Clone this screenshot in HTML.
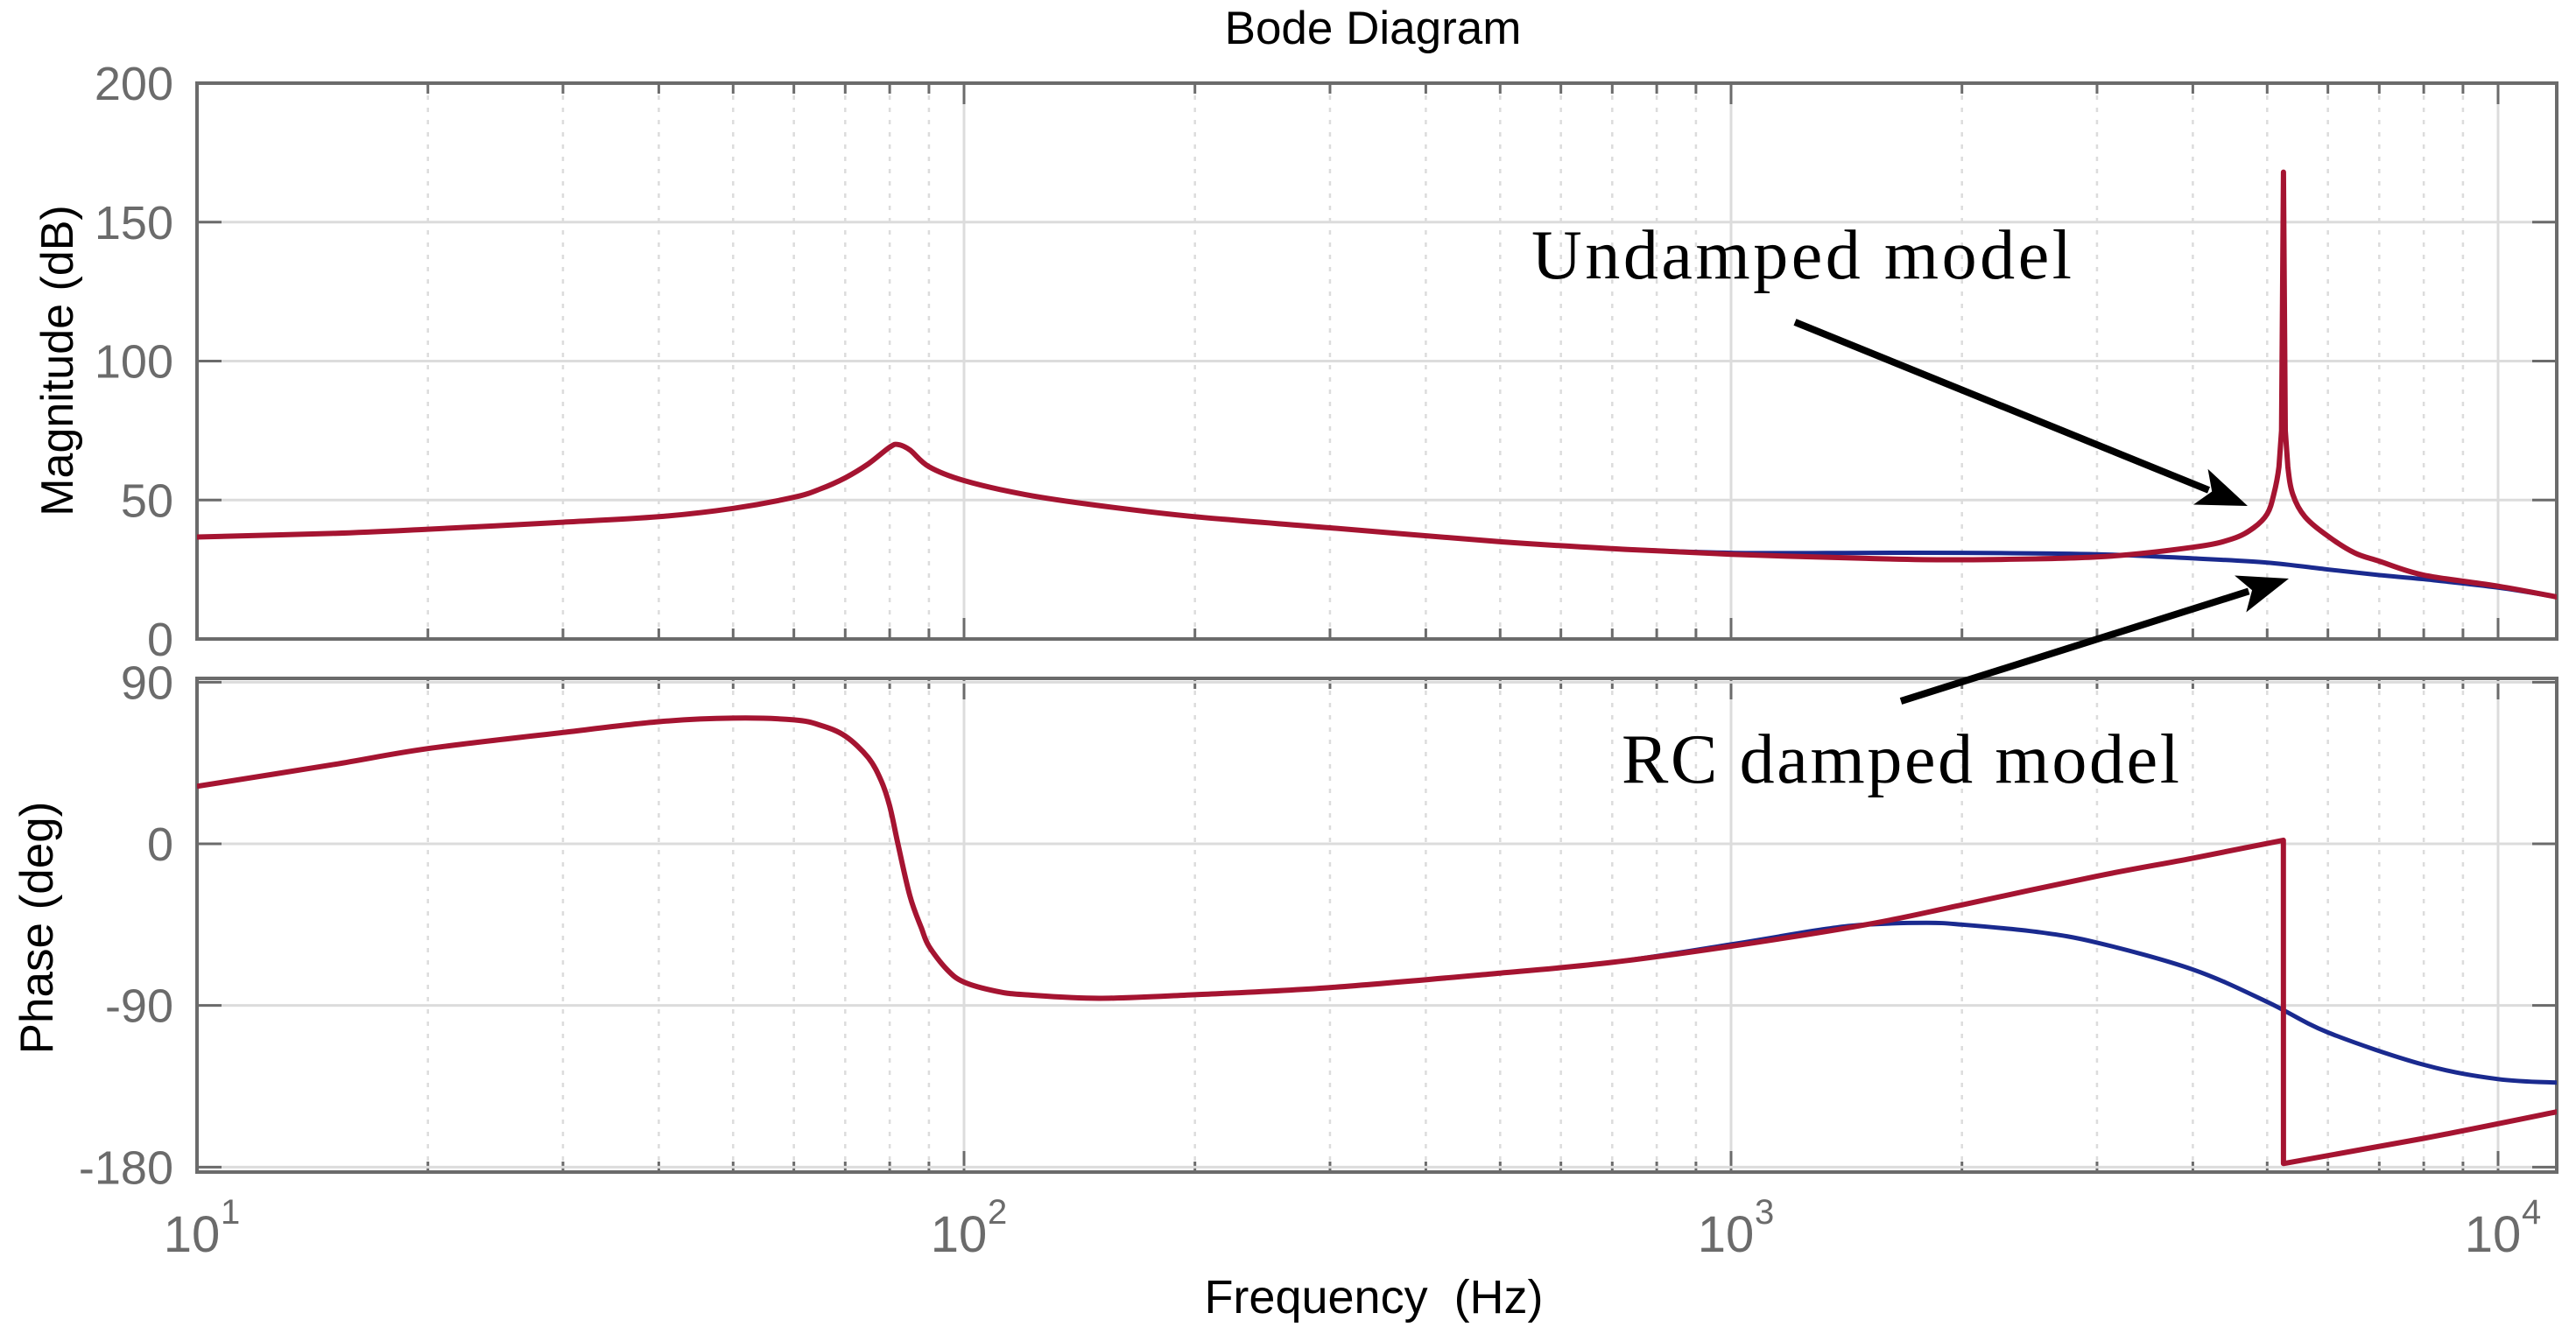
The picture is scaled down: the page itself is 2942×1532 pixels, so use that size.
<!DOCTYPE html>
<html><head><meta charset="utf-8"><style>
html,body{margin:0;padding:0;background:#fff;}
svg{display:block;}
</style></head><body>
<svg id="chart" width="2942" height="1532" viewBox="0 0 2942 1532" xmlns="http://www.w3.org/2000/svg" font-family="Liberation Sans, Arial, sans-serif">
<defs>
<clipPath id="clipMag"><rect x="225" y="95" width="2695" height="635"/></clipPath>
<clipPath id="clipPh"><rect x="225" y="775" width="2695" height="564"/></clipPath>
</defs>
<text x="1568" y="50" text-anchor="middle" font-size="53" fill="#000">Bode Diagram</text>
<g id="gMag"></g>
<g id="gPh"></g>
<text transform="translate(83,412) rotate(-90)" text-anchor="middle" font-size="52" fill="#000">Magnitude (dB)</text>
<text transform="translate(60,1060) rotate(-90)" text-anchor="middle" font-size="53" fill="#000">Phase (deg)</text>
<text x="1569" y="1500" text-anchor="middle" font-size="54" fill="#000" xml:space="preserve">Frequency  (Hz)</text>
<g>
<text x="1749" y="318" font-family="Liberation Serif, serif" font-size="80" fill="#000" textLength="617" lengthAdjust="spacing">Undamped model</text>
<g id="arrow1"></g>
</g>
<g>
<text x="1852" y="894" font-family="Liberation Serif, serif" font-size="80" fill="#000" textLength="637" lengthAdjust="spacing">RC damped model</text>
<g id="arrow2"></g>
</g>
</svg>
<script>
// Frequency axis (Hz) and series data
const magFreq = [10,15,20,30,40,50,60,65,70,75,80,82,85,90,100,120,150,200,300,500,700,1000,1500,2000,3000,4000,4500,4800,5000,5100,5180,5220,5250,5280,5320,5400,5600,6000,6500,7000,8000,10000,12000];
const magUndamped = [36.7,38,39.5,42,44,47,51,54,58,63,69,70,68,62,57,52,48,44,40,35,32.5,30.5,29,28.5,29.5,33,36,40,45,52,62,75,168,75,62,52,44,37,31,28,23,19,15];
const magDampedFreq = [10,15,20,30,40,50,60,65,70,75,80,82,85,90,100,120,150,200,300,500,700,1000,1500,2000,3000,4000,5000,6000,7000,8000,10000,12000];
const magDamped = [36.7,38,39.5,42,44,47,51,54,58,63,69,70,68,62,57,52,48,44,40,35,32.5,31,31,31,30.5,29,27.5,25,23,21.5,18.5,15];
const phFreq = [10,15,20,30,40,50,60,65,70,75,78,80,82,85,88,90,95,100,110,120,150,200,300,500,700,1000,1500,2000,3000,4000,5249,5251,8000,12000];
const phUndamped = [32,44,53,62,68,70,69,66,60,48,35,21,0,-29,-47,-57,-70,-77,-82,-84,-86,-84,-80,-72,-66,-57,-45,-34,-18,-8,2,-178,-164,-149];
const phDampedFreq = [10,15,20,30,40,50,60,65,70,75,78,80,82,85,88,90,95,100,110,120,150,200,300,500,700,1000,1300,1500,1800,2000,2500,3000,4000,5000,6000,8000,10000,12000];
const phDamped = [32,44,53,62,68,70,69,66,60,48,35,21,0,-29,-47,-57,-70,-77,-82,-84,-86,-84,-80,-72,-66,-56,-48,-45,-44,-45,-49,-55,-70,-88,-105,-123,-131,-133];
const magTicks = [0,50,100,150,200];
const phTicks = [-180,-90,0,90];
const decades = [1,2,3,4];

const X0 = 225, DEC = 876, XR = 2920;
function xS(f){ return X0 + (Math.log10(f) - 1) * DEC; }
function yMag(v){ return 730 - v * 3.175; }
function yPh(v){ return 964 - v * 2.052; }
const NS = 'http://www.w3.org/2000/svg';
function mk(tag, attrs, parent){ const e = document.createElementNS(NS, tag); for (const k in attrs) e.setAttribute(k, attrs[k]); parent.appendChild(e); return e; }
const fmax = Math.pow(10, 1 + (XR - X0) / DEC);

function drawAxes(g, top, bot, ticks, yFn, name){
  for (let d = 1; d <= 4; d++) {
    for (let m = 1; m <= 9; m++) {
      const f = m * Math.pow(10, d);
      if (f > fmax) continue;
      const x = xS(f);
      if (x <= X0 + 1) continue;
      const ln = mk('line', {x1:x, x2:x, y1:top, y2:bot, stroke:'#dcdcdc', 'stroke-width': m===1?3:2.5, 'stroke-dasharray': m===1?'none':'5 9'}, g);
      
      
      const tl = m===1 ? 24 : 12;
      const t1 = mk('line', {x1:x, x2:x, y1:bot, y2:bot-tl, stroke:'#6b6b6b', 'stroke-width':3}, g);
      
      
      const t2 = mk('line', {x1:x, x2:x, y1:top, y2:top+tl, stroke:'#6b6b6b', 'stroke-width':3}, g);
      
      
    }
  }
  ticks.forEach(v => {
    const y = yFn(v);
    const gl = mk('line', {x1:X0, x2:XR, y1:y, y2:y, stroke:'#dcdcdc', 'stroke-width':3}, g);
    
    
    const a = mk('line', {x1:X0, x2:X0+28, y1:y, y2:y, stroke:'#6b6b6b', 'stroke-width':3}, g);
    
    
    const b = mk('line', {x1:XR-28, x2:XR, y1:y, y2:y, stroke:'#6b6b6b', 'stroke-width':3}, g);
    
    
    const t = mk('text', {x:198, y:y+19, 'text-anchor':'end', 'font-size':54, fill:'#6b6b6b'}, g);
    
    
    t.textContent = String(v);
  });
  const box = mk('rect', {x:X0, y:top, width:XR-X0, height:bot-top, fill:'none', stroke:'#6b6b6b', 'stroke-width':4}, g);
  
  
}

function smoothPath(fs, vs, yFn){
  const p = fs.map((f,i) => [xS(f), yFn(vs[i])]);
  const sharp = i => i > 0 && i < p.length-1 && (Math.abs(p[i][1]-p[i-1][1]) > 60 || Math.abs(p[i+1][1]-p[i][1]) > 60);
  let d = 'M' + p[0][0].toFixed(1) + ',' + p[0][1].toFixed(1);
  for (let i = 0; i < p.length-1; i++) {
    const a = p[i], b = p[i+1];
    if (Math.abs(b[1]-a[1]) > 60 || sharp(i) || sharp(i+1)) { d += ' L' + b[0].toFixed(1) + ',' + b[1].toFixed(1); continue; }
    const p0 = p[i-1] || a, p3 = p[i+2] || b;
    const c1 = [a[0] + (b[0]-p0[0])/6, a[1] + (b[1]-p0[1])/6];
    const c2 = [b[0] - (p3[0]-a[0])/6, b[1] - (p3[1]-a[1])/6];
    d += ' C' + c1[0].toFixed(1) + ',' + c1[1].toFixed(1) + ' ' + c2[0].toFixed(1) + ',' + c2[1].toFixed(1) + ' ' + b[0].toFixed(1) + ',' + b[1].toFixed(1);
  }
  return d;
}

const gMag = document.getElementById('gMag');
const gPh = document.getElementById('gPh');
drawAxes(gMag, 95, 730, magTicks, yMag, 'magnitude');
drawAxes(gPh, 775, 1339, phTicks, yPh, 'phase');

const gm = mk('g', {'clip-path':'url(#clipMag)'}, gMag);
const pmB = mk('path', {d: smoothPath(magDampedFreq, magDamped, yMag), fill:'none', stroke:'#1a2a8f', 'stroke-width':5, 'stroke-linejoin':'round'}, gm);


const pmR = mk('path', {d: smoothPath(magFreq, magUndamped, yMag), fill:'none', stroke:'#a51431', 'stroke-width':6, 'stroke-linejoin':'round'}, gm);



const gp = mk('g', {'clip-path':'url(#clipPh)'}, gPh);
const ppB = mk('path', {d: smoothPath(phDampedFreq, phDamped, yPh), fill:'none', stroke:'#1a2a8f', 'stroke-width':5, 'stroke-linejoin':'round'}, gp);


const ppR = mk('path', {d: smoothPath(phFreq, phUndamped, yPh), fill:'none', stroke:'#a51431', 'stroke-width':6, 'stroke-linejoin':'round'}, gp);



function arrow(g, x1, y1, x2, y2){
  const dx = x2-x1, dy = y2-y1, L = Math.hypot(dx,dy), ux = dx/L, uy = dy/L, nx = -uy, ny = ux;
  const hl = 58, hw = 22, bx = x2 - ux*hl, by = y2 - uy*hl;
  const ln = mk('line', {x1:x1, y1:y1, x2:bx+ux*10, y2:by+uy*10, stroke:'#000', 'stroke-width':8}, g);
  
  
  const hd = mk('polygon', {points: [x2,y2, bx+nx*hw,by+ny*hw, bx+ux*14,by+uy*14, bx-nx*hw,by-ny*hw].join(','), fill:'#000'}, g);
  
  
}
arrow(document.getElementById('arrow1'), 2050, 368, 2567, 578);
arrow(document.getElementById('arrow2'), 2171, 801, 2614, 661);

const svg = document.getElementById('chart');
decades.forEach(d => {
  const x = xS(Math.pow(10, d));
  const t = mk('text', {x:x-6, y:1430, 'text-anchor':'middle', 'font-size':58, fill:'#6b6b6b'}, svg);
  
  
  t.textContent = '10';
  const s = mk('text', {x:x+27, y:1398, 'text-anchor':'start', 'font-size':40, fill:'#6b6b6b'}, svg);
  
  
  s.textContent = String(d);
});
</script>
</body></html>
